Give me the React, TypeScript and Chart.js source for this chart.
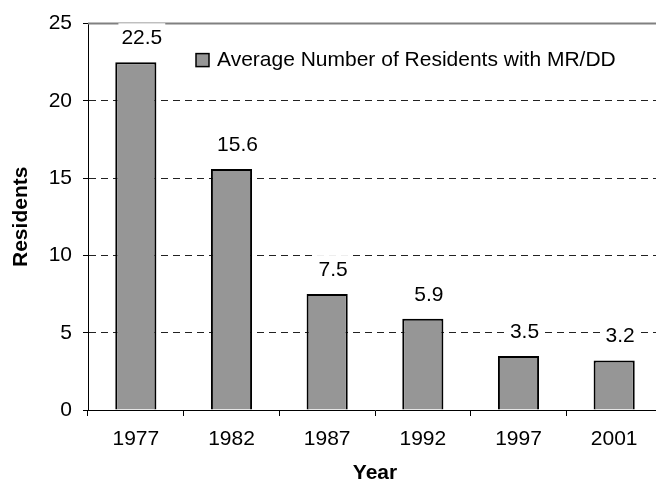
import React, { useEffect, useRef } from "react";
import { Chart, registerables } from "chart.js";

Chart.register(...registerables);

const years = ["1977", "1982", "1987", "1992", "1997", "2001"];
const residents = [22.5, 15.6, 7.5, 5.9, 3.5, 3.2];
const yTicks = [0, 5, 10, 15, 20, 25];
const seriesLabel = "Average Number of Residents with MR/DD";
const xTitle = "Year";
const yTitle = "Residents";

const FONT = "'Liberation Sans', Arial, Helvetica, sans-serif";
const BAR_FILL = "#969696";

export default function App() {
  const ref = useRef<HTMLCanvasElement>(null);

  useEffect(() => {
    const canvas = ref.current;
    if (!canvas) return;

    const topLine = {
      id: "topLine",
      beforeDatasetsDraw(chart: any) {
        const { ctx, chartArea } = chart;
        ctx.save();
        ctx.strokeStyle = "#808080";
        ctx.lineWidth = 2;
        ctx.beginPath();
        ctx.moveTo(chartArea.left, chartArea.top);
        ctx.lineTo(chartArea.right, chartArea.top);
        ctx.stroke();
        ctx.restore();
      },
    };

    const valueLabels = {
      id: "valueLabels",
      afterDatasetsDraw(chart: any) {
        const ctx = chart.ctx;
        const meta = chart.getDatasetMeta(0);
        ctx.save();
        ctx.font = `21px ${FONT}`;
        ctx.textAlign = "center";
        ctx.textBaseline = "middle";
        meta.data.forEach((bar: any, i: number) => {
          const text = String(residents[i]);
          const x = bar.x + 6;
          const y = bar.y - 24;
          const w = ctx.measureText(text).width + 6;
          ctx.fillStyle = "#ffffff";
          ctx.fillRect(x - w / 2, y - 15, w, 30);
          ctx.fillStyle = "#000000";
          ctx.fillText(text, x, y);
        });
        ctx.restore();
      },
    };

    const innerLegend = {
      id: "innerLegend",
      afterDraw(chart: any) {
        const ctx = chart.ctx;
        const { chartArea } = chart;
        const bx = chartArea.left + 108;
        const by = chartArea.top + 30;
        ctx.save();
        ctx.fillStyle = BAR_FILL;
        ctx.fillRect(bx, by, 13, 13);
        ctx.strokeStyle = "#000";
        ctx.lineWidth = 1.5;
        ctx.strokeRect(bx, by, 13, 13);
        ctx.fillStyle = "#000";
        ctx.font = `21px ${FONT}`;
        ctx.textAlign = "left";
        ctx.textBaseline = "middle";
        ctx.fillText(seriesLabel, bx + 21, by + 7);
        ctx.restore();
      },
    };

    const chart = new Chart(canvas, {
      type: "bar",
      data: {
        labels: years,
        datasets: [
          {
            label: seriesLabel,
            data: residents,
            backgroundColor: BAR_FILL,
            borderColor: "#000000",
            borderWidth: 2,
            barPercentage: 0.43,
            categoryPercentage: 1,
          },
        ],
      },
      options: {
        responsive: false,
        animation: false,
        layout: { padding: { top: 22, left: 0, right: 0, bottom: 0 } },
        font: { family: FONT },
        plugins: {
          legend: { display: false },
          tooltip: { enabled: false },
        },
        scales: {
          x: {
            grid: {
              display: true,
              drawOnChartArea: false,
              drawTicks: true,
              tickLength: 6,
              tickColor: "#000",
              offset: true,
            },
            border: { display: true, color: "#000", width: 1 },
            ticks: {
              color: "#000",
              font: { size: 21, family: FONT },
              padding: 11,
              maxRotation: 0,
            },
            title: {
              display: true,
              text: xTitle,
              color: "#000",
              font: { size: 21, weight: "bold", family: FONT, lineHeight: 1 },
              padding: { top: 0, bottom: -2 },
            },
            afterFit: (s: any) => {
              s.height = 72;
            },
          },
          y: {
            min: 0,
            max: 25,
            afterBuildTicks: (s: any) => {
              s.ticks = yTicks.map((v) => ({ value: v }));
            },
            grid: {
              color: (c: any) =>
                c.tick && (c.tick.value === 0 || c.tick.value === 25)
                  ? "rgba(0,0,0,0)"
                  : "#222",
              tickColor: "#000",
              tickLength: 5,
              lineWidth: 1,
            },
            border: { display: true, color: "#000", width: 1, dash: [7, 5] },
            ticks: {
              color: "#000",
              font: { size: 21, family: FONT },
              padding: 11,
            },
            title: {
              display: true,
              text: yTitle,
              color: "#000",
              font: { size: 21, weight: "bold", family: FONT, lineHeight: 1 },
              padding: { top: 11, bottom: 0 },
            },
            afterFit: (s: any) => {
              s.width = 88;
            },
          },
        },
      } as any,
      plugins: [topLine, valueLabels, innerLegend],
    });

    return () => {
      chart.destroy();
    };
  }, []);

  return (
    <div
      style={{
        position: "fixed",
        left: 0,
        top: 0,
        width: 662,
        height: 482,
        background: "#fff",
      }}
    >
      <canvas ref={ref} width={662} height={482} style={{ display: "block" }} />
    </div>
  );
}
